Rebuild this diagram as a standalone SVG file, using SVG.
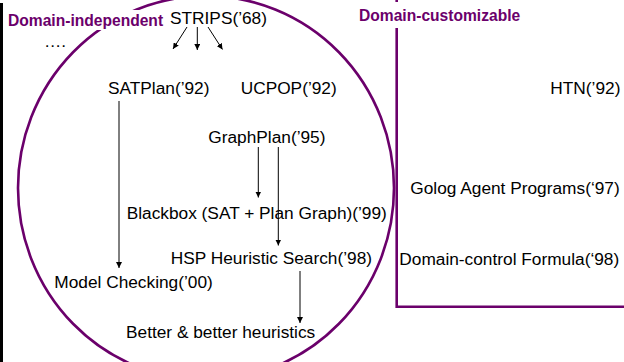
<svg xmlns="http://www.w3.org/2000/svg" width="624" height="362" viewBox="0 0 624 362">
  <style>
    .t { font-family: "Liberation Sans", Arial, sans-serif; font-size: 17.3px; fill: #000; }
    .lbl { font-family: "Liberation Sans", Arial, sans-serif; font-size: 15.6px; font-weight: bold; fill: #6b006b; }
    .region { fill: none; stroke: #6b006b; stroke-width: 2.6; }
    .edge { fill: none; stroke: #000; stroke-width: 1; }
    .mask { fill: #fff; stroke: none; }
  </style>
  <defs>
    <marker id="arrow" viewBox="0 0 8 8" refX="8" refY="4" markerWidth="6" markerHeight="6" markerUnits="userSpaceOnUse" orient="auto">
      <path d="M0,0 L8,4 L0,8 Z" fill="#000"/>
    </marker>
  </defs>

  <rect width="624" height="362" fill="#fff"/>

  <!-- left frame edge -->
  <rect x="0" y="3" width="3" height="359" fill="#000"/>

  <!-- planner families -->
  <g id="domain-independent-region">
    <ellipse class="region" cx="206" cy="188" rx="188" ry="192"/>
    <rect class="mask" x="4" y="10" width="162" height="20"/>
    <text class="lbl" x="8" y="26">Domain-independent</text>
  </g>
  <g id="domain-customizable-region">
    <path class="region" d="M396.7,0 V306.7 H624"/>
    <rect class="mask" x="355" y="2" width="170" height="26"/>
    <text class="lbl" x="359" y="20.5">Domain-customizable</text>
  </g>

  <!-- connectors -->
  <g id="connectors">
    <line class="edge" x1="187" y1="27" x2="173" y2="49" marker-end="url(#arrow)"/>
    <line class="edge" x1="197.3" y1="27" x2="197.3" y2="50" marker-end="url(#arrow)"/>
    <line class="edge" x1="208" y1="27" x2="222.5" y2="49.5" marker-end="url(#arrow)"/>
    <line class="edge" x1="119" y1="101" x2="119" y2="268" marker-end="url(#arrow)"/>
    <line class="edge" x1="258.3" y1="147" x2="258.3" y2="197.5" marker-end="url(#arrow)"/>
    <line class="edge" x1="278.3" y1="147" x2="278.3" y2="245.5" marker-end="url(#arrow)"/>
    <line class="edge" x1="300" y1="271" x2="300" y2="323" marker-end="url(#arrow)"/>
  </g>

  <!-- nodes -->
  <g id="strips"><text class="t" x="170" y="23.5">STRIPS(’68)</text></g>
  <g id="ellipsis"><text class="t" x="44" y="47">….</text></g>
  <g id="satplan"><text class="t" x="108" y="94">SATPlan(’92)</text></g>
  <g id="ucpop"><text class="t" x="240.7" y="94">UCPOP(’92)</text></g>
  <g id="htn"><text class="t" x="550.3" y="94">HTN(’92)</text></g>
  <g id="graphplan"><text class="t" x="208.3" y="142.5">GraphPlan(’95)</text></g>
  <g id="golog"><text class="t" x="410.3" y="193.5">Golog Agent Programs(‘97)</text></g>
  <g id="blackbox"><text class="t" x="126.7" y="219">Blackbox (SAT + Plan Graph)(’99)</text></g>
  <g id="hsp"><text class="t" x="170.7" y="264">HSP Heuristic Search(’98)</text></g>
  <g id="domain-control"><text class="t" x="399.3" y="265">Domain-control Formula(‘98)</text></g>
  <g id="model-checking"><text class="t" x="54.3" y="287.7">Model Checking(’00)</text></g>
  <g id="heuristics"><text class="t" x="126" y="338">Better &amp; better heuristics</text></g>
</svg>
